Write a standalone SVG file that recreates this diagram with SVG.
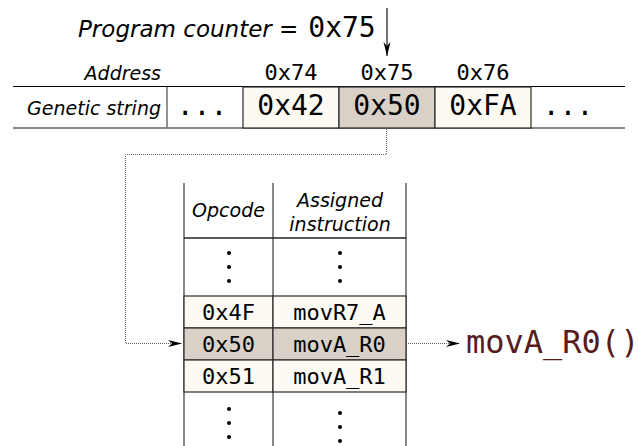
<svg xmlns="http://www.w3.org/2000/svg" width="638" height="446" viewBox="0 0 638 446">
<style>
.it{font-family:"DejaVu Sans","Noto Sans",sans-serif;font-style:italic;fill:#000}
.mono{font-family:"DejaVu Sans Mono","Liberation Mono",monospace;fill:#000}
.cream{fill:#fdf9f3;stroke:#2a2a2a;stroke-width:1.2}
.hl{fill:#d9d1c7;stroke:#2a2a2a;stroke-width:1.2}
.vline{stroke:#555;stroke-width:1.4;fill:none}
.dot{stroke:#666;stroke-width:1;stroke-dasharray:1 1;fill:none}
.solid{stroke:#000;stroke-width:1.1;fill:none}
</style>
<defs>
<marker id="ah" markerWidth="15" markerHeight="8" refX="14" refY="4" orient="auto" markerUnits="userSpaceOnUse">
<path d="M0,0.5 L14,4 L0,7.5 L4,4 Z" fill="#000"/>
</marker>
</defs>
<rect width="638" height="446" fill="#fff"/>

<g id="title">
<text class="it" x="78" y="37" font-size="23">Program counter =</text>
<text class="mono" x="342" y="37" font-size="28" text-anchor="middle">0x75</text>
</g>

<g id="labels">
<text class="it" x="161" y="80" font-size="19" text-anchor="end">Address</text>
<text class="it" x="161" y="115" font-size="19" text-anchor="end">Genetic string</text>
<text class="mono" x="291" y="80" font-size="22" text-anchor="middle">0x74</text>
<text class="mono" x="387" y="80" font-size="22" text-anchor="middle">0x75</text>
<text class="mono" x="483" y="80" font-size="22" text-anchor="middle">0x76</text>
</g>

<g id="strip">
<line x1="13" y1="86.5" x2="625" y2="86.5" stroke="#000" stroke-width="1.2"/>
<line x1="13" y1="128" x2="625" y2="128" stroke="#888" stroke-width="2"/>
<line x1="167" y1="87" x2="167" y2="128" stroke="#777" stroke-width="1.6"/>
</g>
<g id="cell-dots-left"><text class="mono" x="202" y="115" font-size="28" text-anchor="middle">...</text></g>
<g id="cell-0x42">
<rect class="cream" x="243" y="87" width="96" height="41"/>
<text class="mono" x="291" y="115" font-size="28" text-anchor="middle">0x42</text>
</g>
<g id="cell-0x50">
<rect class="hl" x="339" y="87" width="96" height="41"/>
<text class="mono" x="387" y="115" font-size="28" text-anchor="middle">0x50</text>
</g>
<g id="cell-0xFA">
<rect class="cream" x="435" y="87" width="96" height="41"/>
<text class="mono" x="483" y="115" font-size="28" text-anchor="middle">0xFA</text>
</g>
<g id="cell-dots-right"><text class="mono" x="568" y="115" font-size="28" text-anchor="middle">...</text></g>

<g id="table">
<line class="vline" x1="184" y1="183" x2="184" y2="446"/>
<line class="vline" x1="273" y1="183" x2="273" y2="446"/>
<line class="vline" x1="406" y1="183" x2="406" y2="446"/>
<line x1="184" y1="238" x2="406" y2="238" stroke="#222" stroke-width="1.3"/>
<text class="it" x="228.5" y="217" font-size="19" text-anchor="middle">Opcode</text>
<text class="it" x="340" y="207" font-size="19" text-anchor="middle">Assigned</text>
<text class="it" x="340" y="231" font-size="19" text-anchor="middle">instruction</text>
<g fill="#000">
<circle cx="229" cy="253" r="2"/><circle cx="229" cy="267" r="2"/><circle cx="229" cy="281" r="2"/>
<circle cx="340" cy="253" r="2"/><circle cx="340" cy="267" r="2"/><circle cx="340" cy="281" r="2"/>
<circle cx="229" cy="409" r="2"/><circle cx="229" cy="423" r="2"/><circle cx="229" cy="437" r="2"/>
<circle cx="340" cy="413" r="2"/><circle cx="340" cy="427" r="2"/><circle cx="340" cy="441" r="2"/>
</g>
</g>
<g id="row-0x4F">
<rect class="cream" x="184" y="296" width="89" height="32"/>
<rect class="cream" x="273" y="296" width="133" height="32"/>
<text class="mono" x="228.5" y="320" font-size="22" text-anchor="middle">0x4F</text>
<text class="mono" x="339.5" y="320" font-size="22" text-anchor="middle">movR7_A</text>
</g>
<g id="row-0x50">
<rect class="hl" x="184" y="328" width="89" height="32"/>
<rect class="hl" x="273" y="328" width="133" height="32"/>
<text class="mono" x="228.5" y="352" font-size="22" text-anchor="middle">0x50</text>
<text class="mono" x="339.5" y="352" font-size="22" text-anchor="middle">movA_R0</text>
</g>
<g id="row-0x51">
<rect class="cream" x="184" y="360" width="89" height="32"/>
<rect class="cream" x="273" y="360" width="133" height="32"/>
<text class="mono" x="228.5" y="384" font-size="22" text-anchor="middle">0x51</text>
<text class="mono" x="339.5" y="384" font-size="22" text-anchor="middle">movA_R1</text>
</g>

<g id="result">
<text class="mono" x="466" y="353" font-size="32" style="fill:#571c1c">movA_R0()</text>
</g>

<g id="connectors">
<line class="solid" x1="387" y1="8" x2="387" y2="56" marker-end="url(#ah)"/>
<path class="dot" d="M386.5,129 V154.5 H125.5 V343.5 H182" marker-end="url(#ah)"/>
<path class="dot" d="M408,343.5 H460" marker-end="url(#ah)"/>
</g>
</svg>
